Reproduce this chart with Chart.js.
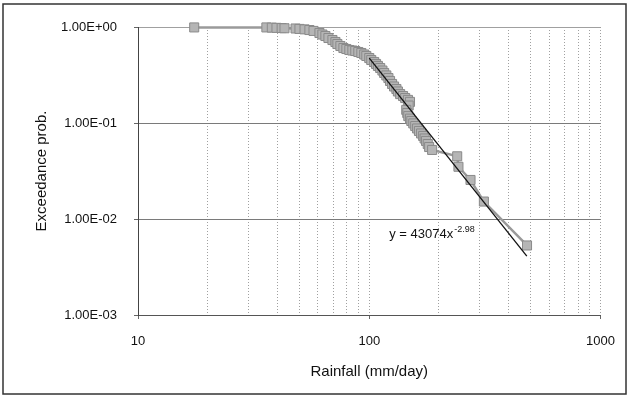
<!DOCTYPE html>
<html>
<head>
  <title>Rainfall exceedance</title>
  <script src="https://cdn.jsdelivr.net/npm/chart.js"></script>
  <style>
    body { margin: 0; background: #fff; }
    canvas { display: block; }
  </style>
</head>
<body>
  <canvas id="exceedance-chart" width="630" height="397"></canvas>

  <script>
    // observed daily rainfall vs exceedance probability
    const rainfall = [17.5, 35.9, 37.9, 39.7, 41.8, 43.0, 48.0, 49.9, 52.5, 55.1, 57.4,
      60.9, 62.7, 64.6, 66.6, 69.3, 71.4, 72.8, 75.0, 77.3, 79.6, 82.0, 84.5, 87.0, 89.7,
      92.4, 95.1, 97.1, 100, 102, 105, 107, 109, 111.5, 114, 116, 118.5, 121, 123, 125.5,
      128, 131, 133, 136, 140, 143, 147, 150, 148, 144.5, 146, 147.5, 150, 152, 155, 158,
      161, 164, 167.5, 171, 173.5, 176, 179, 181.5, 187, 240, 243, 274, 313, 481];
    const exceedance = [0.99, 0.99, 0.985, 0.98, 0.975, 0.97, 0.965, 0.955, 0.945, 0.93, 0.91,
      0.866, 0.835, 0.806, 0.768, 0.732, 0.698, 0.665, 0.634, 0.604, 0.59, 0.576, 0.569, 0.562, 0.549,
      0.536, 0.517, 0.499, 0.475, 0.453, 0.432, 0.412, 0.393, 0.374, 0.352, 0.332, 0.313, 0.294, 0.274, 0.255,
      0.24, 0.226, 0.213, 0.2, 0.191, 0.182, 0.174, 0.166, 0.152, 0.137, 0.127, 0.118, 0.111, 0.105, 0.099, 0.093,
      0.0877, 0.0826, 0.0778, 0.0733, 0.069, 0.065, 0.0604, 0.0562, 0.0524, 0.045, 0.035, 0.0255, 0.0152, 0.0053];

    // power-law trendline end points
    const trendX = [100, 480];
    const trendY = [0.475, 0.0041];
    const trendLabel = 'y = 43074x';
    const trendPower = '-2.98';

    // axes
    const xGridValues = [10, 20, 30, 40, 50, 60, 70, 80, 90, 100, 200, 300, 400, 500, 600, 700, 800, 900, 1000];
    const xTickValues = [10, 100, 1000];
    const yTickValues = [0.001, 0.01, 0.1, 1];
    const yTickLabels = ['1.00E-03', '1.00E-02', '1.00E-01', '1.00E+00'];

    const FONT = "'Liberation Sans', Arial, sans-serif";

    const pointsData = rainfall.map((x, i) => ({ x: x, y: exceedance[i] }));
    const trendData = trendX.map((x, i) => ({ x: x, y: trendY[i] }));

    // outer frame + equation text
    const framePlugin = {
      id: 'frame',
      afterDraw(chart) {
        const ctx = chart.ctx;
        ctx.save();
        ctx.strokeStyle = '#333';
        ctx.lineWidth = 1.5;
        ctx.strokeRect(3, 4, 623, 390);

        const xs = chart.scales.x, ys = chart.scales.y;
        const px = xs.getPixelForValue(122);
        const py = ys.getPixelForValue(0.0064);
        ctx.fillStyle = '#111';
        ctx.textBaseline = 'alphabetic';
        ctx.textAlign = 'left';
        ctx.font = '13px ' + FONT;
        ctx.fillText(trendLabel, px, py);
        const w = ctx.measureText(trendLabel).width;
        ctx.font = '9px ' + FONT;
        ctx.fillText(trendPower, px + w + 1, py - 6);
        ctx.restore();
      }
    };

    new Chart(document.getElementById('exceedance-chart'), {
      type: 'scatter',
      data: {
        datasets: [
          {
            label: 'Power trend',
            data: trendData,
            showLine: true,
            borderColor: '#111',
            borderWidth: 1.3,
            pointRadius: 0,
            order: 0
          },
          {
            label: 'Exceedance prob.',
            data: pointsData,
            showLine: true,
            clip: false,
            borderColor: '#9a9a9a',
            borderWidth: 2.5,
            pointStyle: 'rect',
            pointRadius: 6.4,
            pointBackgroundColor: '#b5b5b5',
            pointBorderColor: '#8a8a8a',
            pointBorderWidth: 1,
            order: 1
          }
        ]
      },
      options: {
        responsive: false,
        animation: false,
        layout: { padding: { left: 0, right: 28, top: 27, bottom: 0 } },
        plugins: {
          legend: { display: false },
          tooltip: { enabled: false }
        },
        scales: {
          x: {
            type: 'logarithmic',
            min: 10,
            max: 1000,
            afterBuildTicks: s => { s.ticks = xGridValues.map(v => ({ value: v })); },
            afterFit: s => { s.height = 82; },
            ticks: {
              autoSkip: false,
              maxRotation: 0,
              padding: 15,
              color: '#111',
              font: { family: FONT, size: 13 },
              callback: v => xTickValues.includes(v) ? String(v) : ''
            },
            grid: {
              color: '#a0a0a0',
              lineWidth: 1,
              tickLength: 4,
              tickColor: c => xTickValues.includes(c.tick.value) ? '#666' : 'rgba(0,0,0,0)'
            },
            border: { color: '#555', width: 1, dash: [1, 2] },
            title: {
              display: true,
              text: 'Rainfall (mm/day)',
              color: '#111',
              font: { family: FONT, size: 15 },
              padding: { top: 0, bottom: 16 }
            }
          },
          y: {
            type: 'logarithmic',
            min: 0.001,
            max: 1,
            afterBuildTicks: s => { s.ticks = yTickValues.map(v => ({ value: v })); },
            afterFit: s => { s.width = 138; },
            ticks: {
              padding: 17,
              color: '#111',
              font: { family: FONT, size: 13 },
              callback: v => yTickLabels[yTickValues.indexOf(v)]
            },
            grid: {
              color: c => (c.tick.value === 0.1 || c.tick.value === 0.01) ? '#7a7a7a' : '#a0a0a0',
              lineWidth: 1,
              tickLength: 4,
              tickColor: '#666'
            },
            border: { color: '#444', width: 1 },
            title: {
              display: true,
              text: 'Exceedance prob.',
              color: '#111',
              font: { family: FONT, size: 15 },
              padding: { top: 33, bottom: 0 }
            }
          }
        }
      },
      plugins: [framePlugin]
    });
  </script>
</body>
</html>
